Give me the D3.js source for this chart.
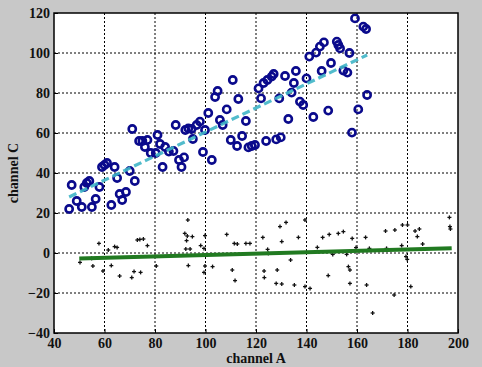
<!DOCTYPE html>
<html>
<head>
<meta charset="utf-8">
<title>channel A vs channel C</title>
<style>
  body { margin: 0; background: #c8c8c8; }
  .grid line { stroke: #000; stroke-width: 1; stroke-dasharray: 2,2; }
  .tick text { font-family: "Liberation Serif", serif; font-weight: bold; font-size: 14px; fill: #111; }
  .label { font-family: "Liberation Serif", serif; font-weight: bold; font-size: 14px; fill: #111; }
</style>
</head>
<body>
<div class="container"></div>
<script src="https://cdn.jsdelivr.net/npm/d3@7"></script>
<script>

// circles: channel A / channel C (upper group)
var circleA = [46,47,49,51,52,53,54,55,56.5,58,59,60,61,62.7,64,65,66,68.5,67,70,71,72,
  73.7,75,77,76,78.3,80.3,81,82,83,84,85.5,87.3,88.2,89.5,90.5,91.5,92,93.2,94.5,96.5,97.8,
  95,99.8,99,101.1,102.5,103.8,104.8,105.7,106.8,108.4,110.8,110,112.5,113,114.5,116,
  117,118.3,119.6,121,123,124.5,126.2,127,122,124,128,129.8,129.2,131.5,132.8,134.1,135,
  135.8,137.4,138.7,140,141.1,143.8,142.7,145.3,146.9,146,148.6,149.7,152,152.6,153.3,
  154.6,156.2,157,158,159.2,160.5,162.5,163.6,164];
var circleC = [22,34,26,23,33,35,36,23,27,33,43,44,45,24,43,37.5,29.5,30.5,26.5,41,62,36,
  56,56,56.5,53,50,50,59,54.5,43,53,50.7,51,64,46.5,43,47.8,61.5,62.3,62,64,65.7,
  57,61.5,50.5,70,46.5,78,81,66.5,64,71.8,86.5,56.5,53.5,77,58.5,66,
  52.8,53.5,54,82.3,85,86.5,88.2,89.5,77.3,56,56.8,57.8,77.3,88.5,67,80.2,85,
  91,75.7,74,87.3,98.2,100.2,68,103.2,105.3,91,71.2,95,105.7,104,102.3,
  91.2,90.2,100,60.2,117.3,71.8,113.2,112,79];

// plus markers: channel A / residual (lower group)
var plusA = [50.3,54.9,55.4,57.8,59.4,61.5,62.7,64,65,66,70.8,71.7,73,74,75.4,74.3,77,80.5,
  93,91.8,92.8,92.5,94.8,92.2,93.9,93.2,98.1,99.4,99.8,99.8,99.4,99.8,102.8,108.4,111.4,
  112.6,110.6,111.7,116,117.6,122.7,124.6,124.9,123.2,123.3,128.4,128,130.2,129.5,131.9,
  130.2,133.7,135.2,136.8,139.4,139.4,141.4,144.3,146.4,149,148.6,152.6,154.6,158.1,159.6,
  150.4,155.9,156.6,157.2,157.2,163.4,163.8,164.9,166.2,171.3,175,171.7,174.7,177.7,178,
  180,179.4,179.9,181.3,183,184.7,183.9,186,196.6,196.8,197];
var plusC = [-4.7,-2.7,-6.5,4.8,-9,1.5,-6.3,3.2,2.8,-11.5,-12.3,-9.3,6.5,6.8,7,-9.7,3.7,-6.5,
  16.5,9.8,8.5,6.2,8.2,2,2,-6.3,3.7,2.3,8.7,-6.5,-9.7,-1,-6.8,9.3,4.8,
  4.5,-8.5,-13.8,4.8,4.8,7.8,1.8,-0.2,-9,-12.3,-8.5,-15.2,-15.5,13.2,15.3,
  5.7,-3.5,-16,7.8,16.5,-16.8,-17.7,2.8,7.8,9.3,-11.3,9.8,10.7,7.3,2.7,
  -0.7,-0.7,-6.8,-8.5,-15.2,7.8,-16,2.3,-30,11,11.5,2.3,-21,3.7,14,
  14,-1.8,-3.2,-16.8,11,12,8.2,4.5,17.8,13.2,12];

// fitted lines (end points)
var fitUpperA = [46, 164], fitUpperC = [28, 99];
var fitLowerA = [50, 197.5], fitLowerC = [-2.7, 2.4];

var xTicks = [40,60,80,100,120,140,160,180,200];
var yTicks = [-40,-20,0,20,40,60,80,100,120];

var svgWidth = 482, svgHeight = 367;
var margin = {top: 13, left: 54, right: 24, bottom: 34};
var width = svgWidth - margin.left - margin.right;
var height = svgHeight - margin.top - margin.bottom;

var svg = d3.select('.container').append('svg')
  .attr('width', svgWidth)
  .attr('height', svgHeight)
  .style('display', 'block');

svg.append('rect').attr('width', svgWidth).attr('height', svgHeight).attr('fill', '#c8c8c8');

var x = d3.scaleLinear().domain([40, 200]).range([0, width]);
var y = d3.scaleLinear().domain([-40, 120]).range([height, 0]);

var g = svg.append('g').attr('transform', `translate(${margin.left},${margin.top})`);

g.append('rect').attr('width', width).attr('height', height).attr('fill', '#fff');

// grid
g.append('g').attr('class', 'grid')
  .selectAll('line.v').data(xTicks.slice(1, -1)).enter().append('line')
  .attr('x1', d => x(d)).attr('x2', d => x(d)).attr('y1', 0).attr('y2', height);
g.append('g').attr('class', 'grid')
  .selectAll('line.h').data(yTicks.slice(1, -1)).enter().append('line')
  .attr('y1', d => y(d)).attr('y2', d => y(d)).attr('x1', 0).attr('x2', width);

// axes
var xAxis = d3.axisBottom(x).tickValues(xTicks).tickSize(-4).tickPadding(5);
var yAxis = d3.axisLeft(y).tickValues(yTicks).tickSize(-4).tickPadding(4);

g.append('g').attr('transform', `translate(0,${height})`).call(xAxis)
  .call(s => s.select('.domain').remove());
g.append('g').call(yAxis)
  .call(s => s.select('.domain').remove());

// lower group
var lower = g.append('g');
var plus = lower.selectAll('g.p').data(plusA.map((a, i) => [a, plusC[i]])).enter().append('g')
  .attr('transform', d => `translate(${x(d[0])},${y(d[1])})`);
plus.append('line').attr('x1', -2).attr('x2', 2).attr('stroke', '#111').attr('stroke-width', 1.3);
plus.append('line').attr('y1', -2).attr('y2', 2).attr('stroke', '#111').attr('stroke-width', 1.3);

var line = d3.line().x(d => x(d[0])).y(d => y(d[1]));

lower.append('path')
  .attr('d', line(fitLowerA.map((a, i) => [a, fitLowerC[i]])))
  .attr('stroke', '#217a21').attr('stroke-width', 4).attr('fill', 'none');

// upper group
g.append('g').selectAll('circle').data(circleA.map((a, i) => [a, circleC[i]])).enter()
  .append('circle')
  .attr('cx', d => x(d[0]))
  .attr('cy', d => y(d[1]))
  .attr('r', 3.6)
  .attr('fill', 'none')
  .attr('stroke', '#0a0a8c')
  .attr('stroke-width', 2.6);

g.append('path')
  .attr('d', line(fitUpperA.map((a, i) => [a, fitUpperC[i]])))
  .attr('stroke', '#3fb5c6').attr('stroke-width', 3.2)
  .attr('stroke-dasharray', '8,4').attr('fill', 'none').attr('opacity', 0.9);

// box
g.append('rect').attr('width', width).attr('height', height)
  .attr('fill', 'none').attr('stroke', '#000').attr('stroke-width', 1.5);

// labels
svg.append('text').attr('class', 'label')
  .attr('x', margin.left + width / 2).attr('y', 363)
  .attr('text-anchor', 'middle').text('channel A');

svg.append('text').attr('class', 'label')
  .attr('transform', `translate(18,${margin.top + height / 2}) rotate(-90)`)
  .attr('text-anchor', 'middle').text('channel C');

</script>
</body>
</html>
